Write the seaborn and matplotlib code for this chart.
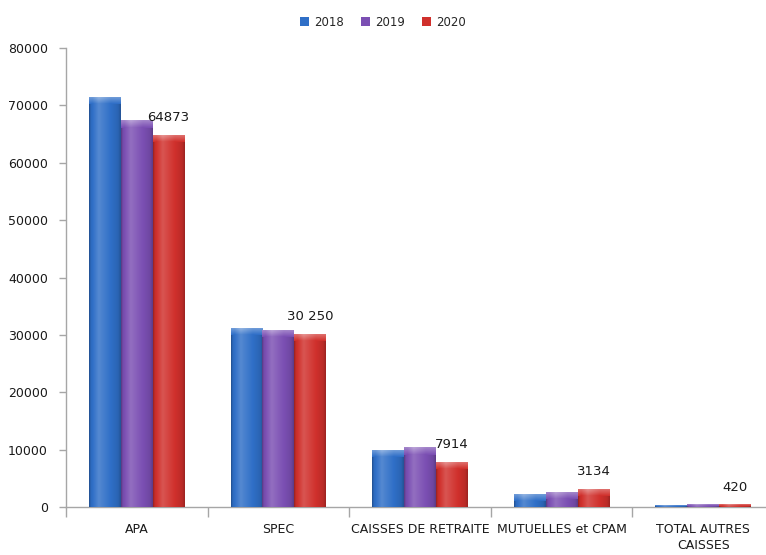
import numpy as np
import pandas as pd
import seaborn as sns
import matplotlib.pyplot as plt
from matplotlib.colors import to_rgb
from matplotlib.patches import Patch

# --- data -------------------------------------------------------------
categories = ["APA", "SPEC", "CAISSES DE RETRAITE", "MUTUELLES et CPAM",
              "TOTAL AUTRES\nCAISSES"]
years = ["2018", "2019", "2020"]
values_2018 = [71500, 31300, 9900, 2250, 300]
values_2019 = [67200, 30800, 10400, 2750, 550]
values_2020 = [64873, 30250, 7914, 3134, 420]
labels_2020 = ["64873", "30 250", "7914", "3134", "420"]
y_ticks = [0, 10000, 20000, 30000, 40000, 50000, 60000, 70000, 80000]

palette = {"2018": "#2f6fc7", "2019": "#7b4fb3", "2020": "#d0302c"}
axis_grey = "#a6a6a6"

df = pd.DataFrame({
    "categorie": categories * 3,
    "annee": [y for y in years for _ in categories],
    "valeur": values_2018 + values_2019 + values_2020,
})

# --- figure -----------------------------------------------------------
sns.set_theme(style="white")
plt.rcParams["font.family"] = ["DejaVu Sans"]

fig = plt.figure(figsize=(7.66, 5.55), dpi=100)
ax = fig.add_axes([66 / 766, 47.7 / 555, 708 / 766, 459.3 / 555])

sns.barplot(data=df, x="categorie", y="valeur", hue="annee", order=categories,
            hue_order=years, palette=palette, saturation=1, width=0.675,
            gap=0, legend=False, ax=ax, zorder=2)

ymax = 80000
px_per_unit = 459.3 / ymax
bevel = 7 / px_per_unit  # top bevel height in data units


def shade(rgb, f):
    c = np.array(rgb)
    if f >= 1:
        return c + (1 - c) * (f - 1)
    return c * f


# glossy shading on each bar: horizontal cylinder-like gradient + light top cap
u = np.linspace(0, 1, 40)
profile = np.interp(u, [0, 0.05, 0.3, 0.6, 0.92, 1.0],
                    [0.74, 0.95, 1.18, 1.04, 0.9, 0.76])
for container, year in zip(ax.containers, years):
    base = to_rgb(palette[year])
    for bar in container:
        x0, w, h = bar.get_x(), bar.get_width(), bar.get_height()
        if h <= 0:
            continue
        bar.set_edgecolor("none")
        body = np.array([shade(base, f) for f in profile]).clip(0, 1)
        b = min(bevel, h * 0.5)
        ax.imshow(body[None, :, :], extent=(x0, x0 + w, 0, h - b),
                  aspect="auto", origin="lower", zorder=3, interpolation="bilinear")
        # bevel cap: lighter toward the top edge
        rows = 8
        cap = np.zeros((rows, len(u), 3))
        for r in range(rows):
            t = r / (rows - 1)
            cap[r] = np.array([shade(base, max(f, 1.0) + 0.3 * t) for f in profile])
        cap = cap.clip(0, 1)
        ax.imshow(cap, extent=(x0, x0 + w, h - b, h), aspect="auto",
                  origin="lower", zorder=3, interpolation="bilinear")

# value labels on the 2020 series
for bar, txt in zip(ax.containers[2], labels_2020):
    ax.annotate(txt, (bar.get_x() + bar.get_width() / 2, bar.get_height()),
                xytext=(0, 8), textcoords="offset points", ha="center",
                va="bottom", fontsize=9.5, color="#1a1a1a", zorder=5)

# --- axes styling -----------------------------------------------------
ax.set_xlim(-0.5, len(categories) - 0.5)
ax.set_ylim(0, ymax)
ax.set_yticks(y_ticks)
ax.set_yticklabels([str(t) for t in y_ticks])
ax.set_xlabel("")
ax.set_ylabel("")

for side in ["top", "right"]:
    ax.spines[side].set_visible(False)
for side in ["left", "bottom"]:
    ax.spines[side].set_color(axis_grey)
    ax.spines[side].set_linewidth(1)

ax.tick_params(axis="y", which="major", left=True, length=5, width=1,
               color=axis_grey, pad=8, labelsize=9, labelcolor="#1a1a1a")
ax.tick_params(axis="x", which="major", bottom=False, pad=5, labelsize=9,
               labelcolor="#1a1a1a")
ax.set_xticks(np.arange(-0.5, len(categories)), minor=True)
ax.tick_params(axis="x", which="minor", bottom=True, length=7, width=1,
               color=axis_grey)
for lbl in ax.get_xticklabels():
    lbl.set_linespacing(1.35)
ax.grid(False)

# legend across the top
handles = [Patch(facecolor=palette[y], edgecolor="none") for y in years]
fig.legend(handles, years, loc="center", bbox_to_anchor=(0.5, 1 - 22 / 555),
           ncol=3, frameon=False, fontsize=8.5, handlelength=0.75,
           handleheight=0.75, handletextpad=0.4, columnspacing=1.5)

fig.savefig("out.png", dpi=100)
